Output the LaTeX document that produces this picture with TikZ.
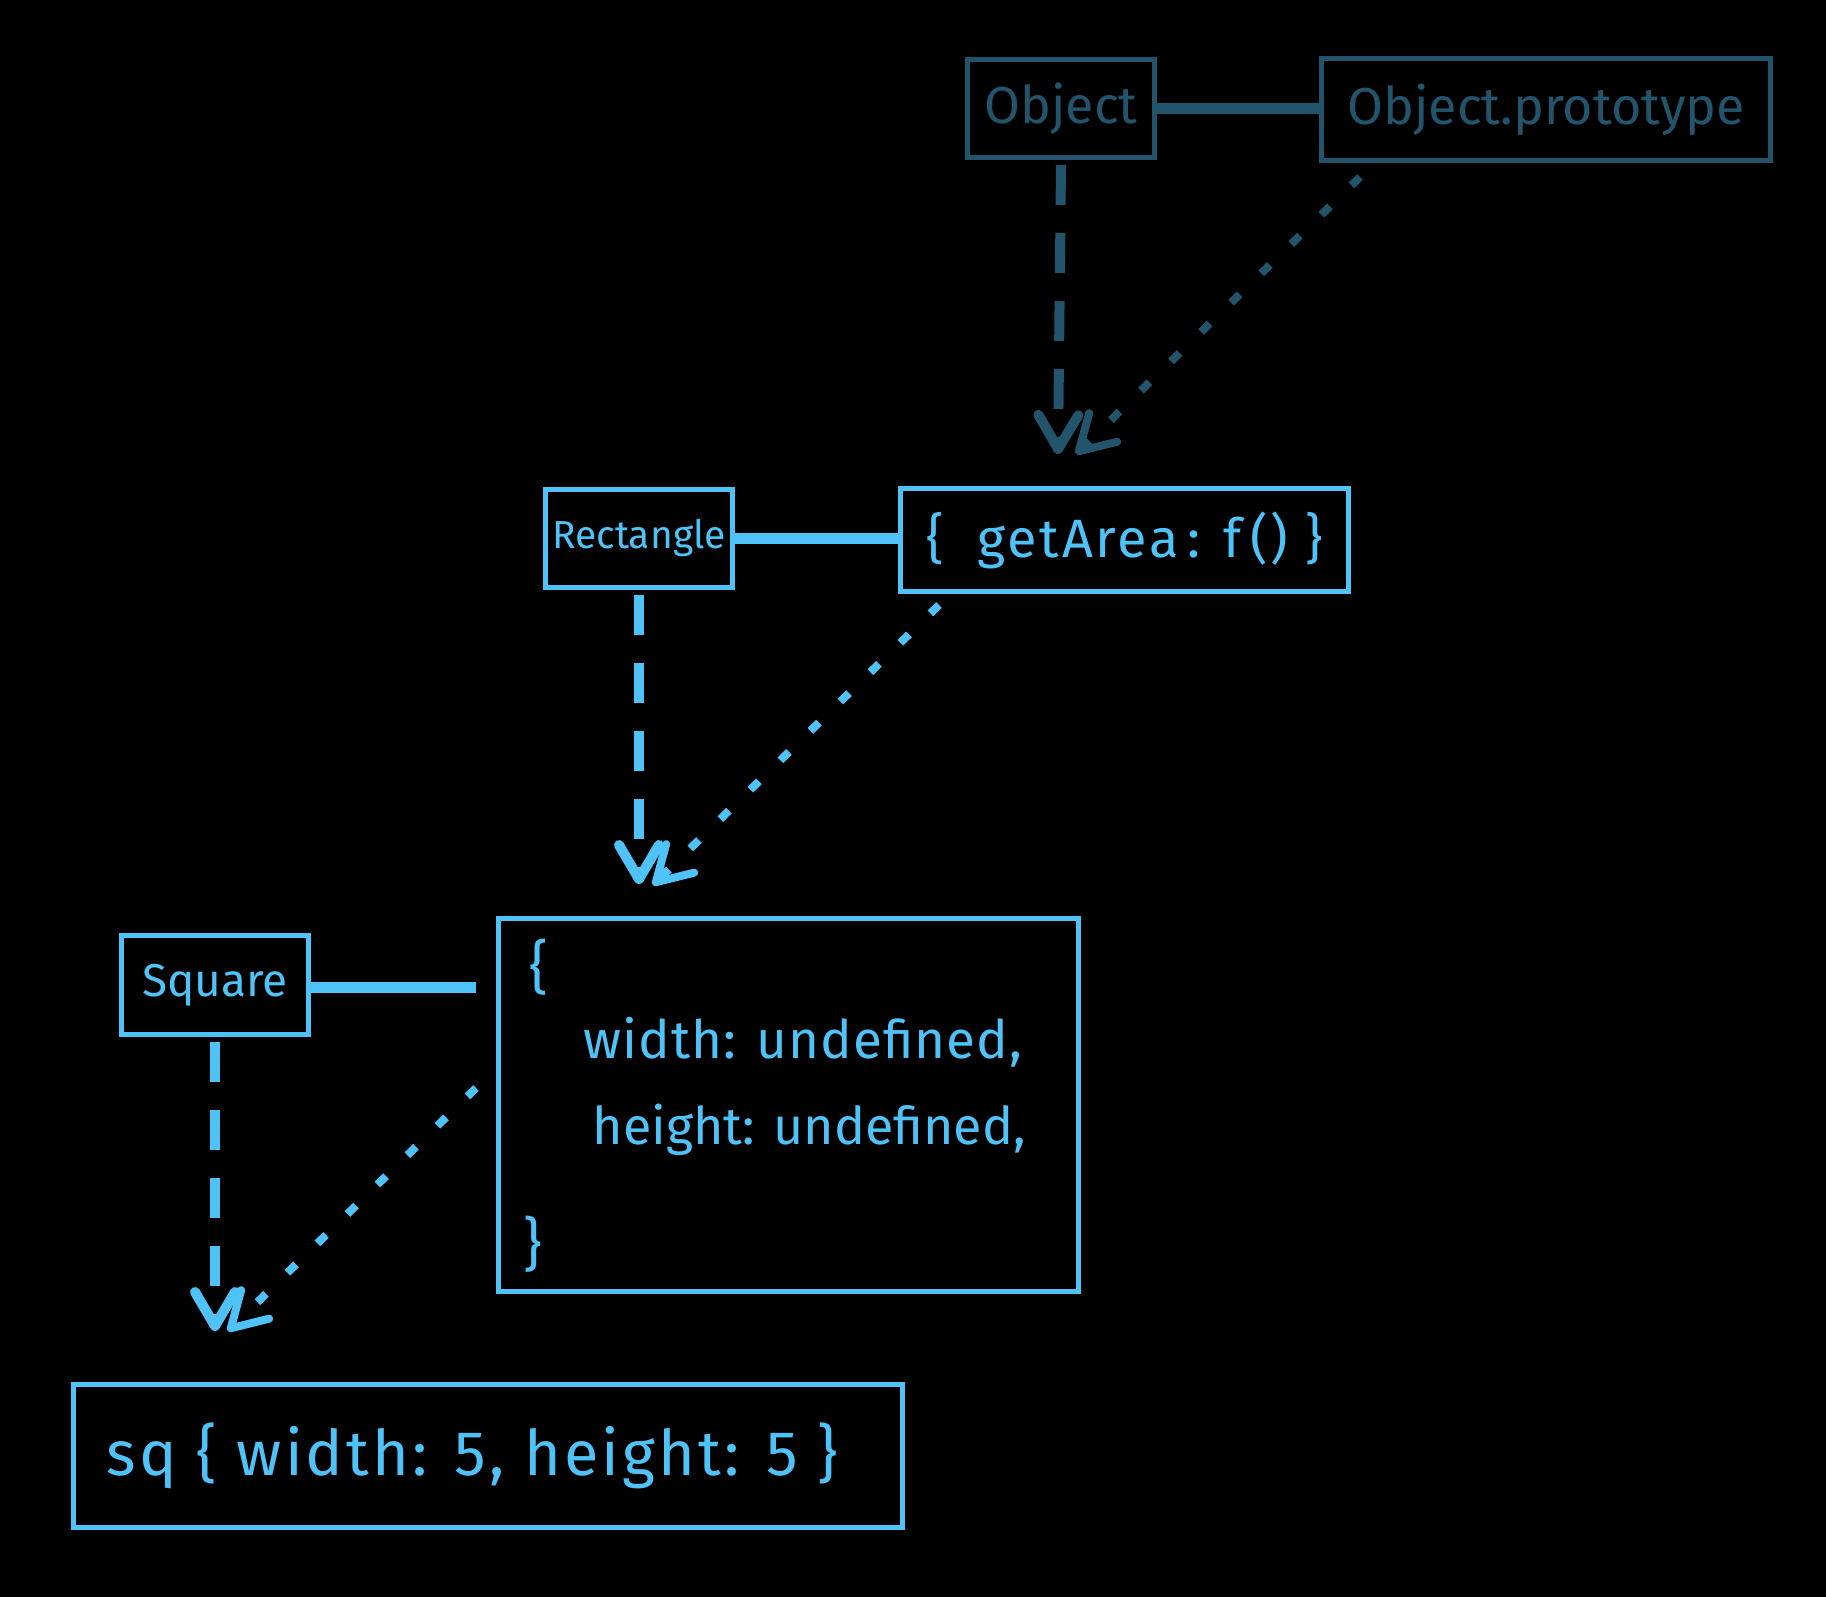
\documentclass[tikz,border=0pt]{standalone}
\usepackage{fontspec}
\setmainfont{Fira Sans}
\usetikzlibrary{arrows.meta,calc}
\definecolor{dk}{HTML}{22546B}
\definecolor{lt}{HTML}{4FC3F7}
\begin{document}
\begin{tikzpicture}[x=1pt,y=-1pt,
  box/.style={draw, line width=5pt, inner sep=0pt, anchor=north west},
  link/.style={line width=11pt},
  tip/.style={-{Straight Barb[length=34pt,width=40pt,round]}},
  inh/.style={line width=10pt, dash pattern=on 40pt off 28pt, tip},
  proto/.style={line width=8pt, dash pattern=on 12pt off 30pt, tip},
  big/.style={font=\fontsize{52}{60}\selectfont},
  mid/.style={font=\fontsize{46}{56}\selectfont},
  small/.style={font=\fontsize{39}{46}\selectfont}]
\fill[black] (0,0) rectangle (1826,1597);
\useasboundingbox (0,0) rectangle (1826,1597);

% top row
\node[box, dk, text=dk, big, minimum width=187pt, minimum height=98pt] (obj) at (965,57) {Object};
\node[box, dk, text=dk, big, minimum width=449pt, minimum height=102pt] (objp) at (1319,56) {Object.prototype};
\draw[link, dk] (obj.east) -- (obj.east -| objp.west);

% middle row
\node[box, lt, text=lt, small, minimum width=187pt, minimum height=98pt] (rect) at (543,487) {Rectangle};
\node[box, lt, text=lt, font=\fontsize{54}{60}\selectfont\addfontfeature{LetterSpace=5}, minimum width=448pt, minimum height=103pt] (get) at (898,486) {\{\ \ getArea\,: f\,() \}};
\draw[link, lt] (rect.east) -- (rect.east -| get.west);

% lower row
\node[box, lt, text=lt, mid, minimum width=187pt, minimum height=99pt] (sqr) at (119,933) {Square};
\node[box, lt, minimum width=580pt, minimum height=373pt] (bigbox) at (496,916) {};
\node[lt, font=\fontsize{58}{60}\selectfont] (ob) at (539,967) {\{};
\node[lt, font=\fontsize{53}{60}\selectfont\addfontfeature{LetterSpace=2}, anchor=west] (w) at (580,1042) {width: undefined,};
\node[lt, big, anchor=west] (h) at (589,1130) {height: undefined,};
\node[lt, font=\fontsize{58}{60}\selectfont] (cb) at (533,1244) {\}};
\coordinate (sqend) at (476,987);
\draw[link, lt] (sqr.east |- sqend) -- (sqend);

% bottom
\node[box, lt, minimum width=829pt, minimum height=143pt] (sq) at (71,1382) {};
\node[lt, font=\fontsize{63}{70}\selectfont\addfontfeature{LetterSpace=5}, anchor=west] (sqt) at (103,1456) {sq \{ width: 5, height: 5 \}};

% arrows
\coordinate (tA) at (1058,454);
\coordinate (tB) at (1076,454);
\draw[inh, dk] ($(obj.south)+(0,5)$) -- (tA);
\draw[proto, dk] ($(objp.south west)+(41,14)$) -- (tB);

\coordinate (tC) at (637,884);
\coordinate (tD) at (653,885);
\draw[inh, lt] ($(rect.south)+(0,5)$) -- (rect.south |- tC);
\draw[proto, lt] ($(get.south west)+(41,11)$) -- (tD);

\coordinate (tE) at (212,1331);
\coordinate (tF) at (228,1331);
\draw[inh, lt] ($(sqr.south)+(0,5)$) -- (sqr.south |- tE);
\draw[proto, lt] ($(bigbox.west)+(-20,-17)$) -- (tF);
\end{tikzpicture}
\end{document}
